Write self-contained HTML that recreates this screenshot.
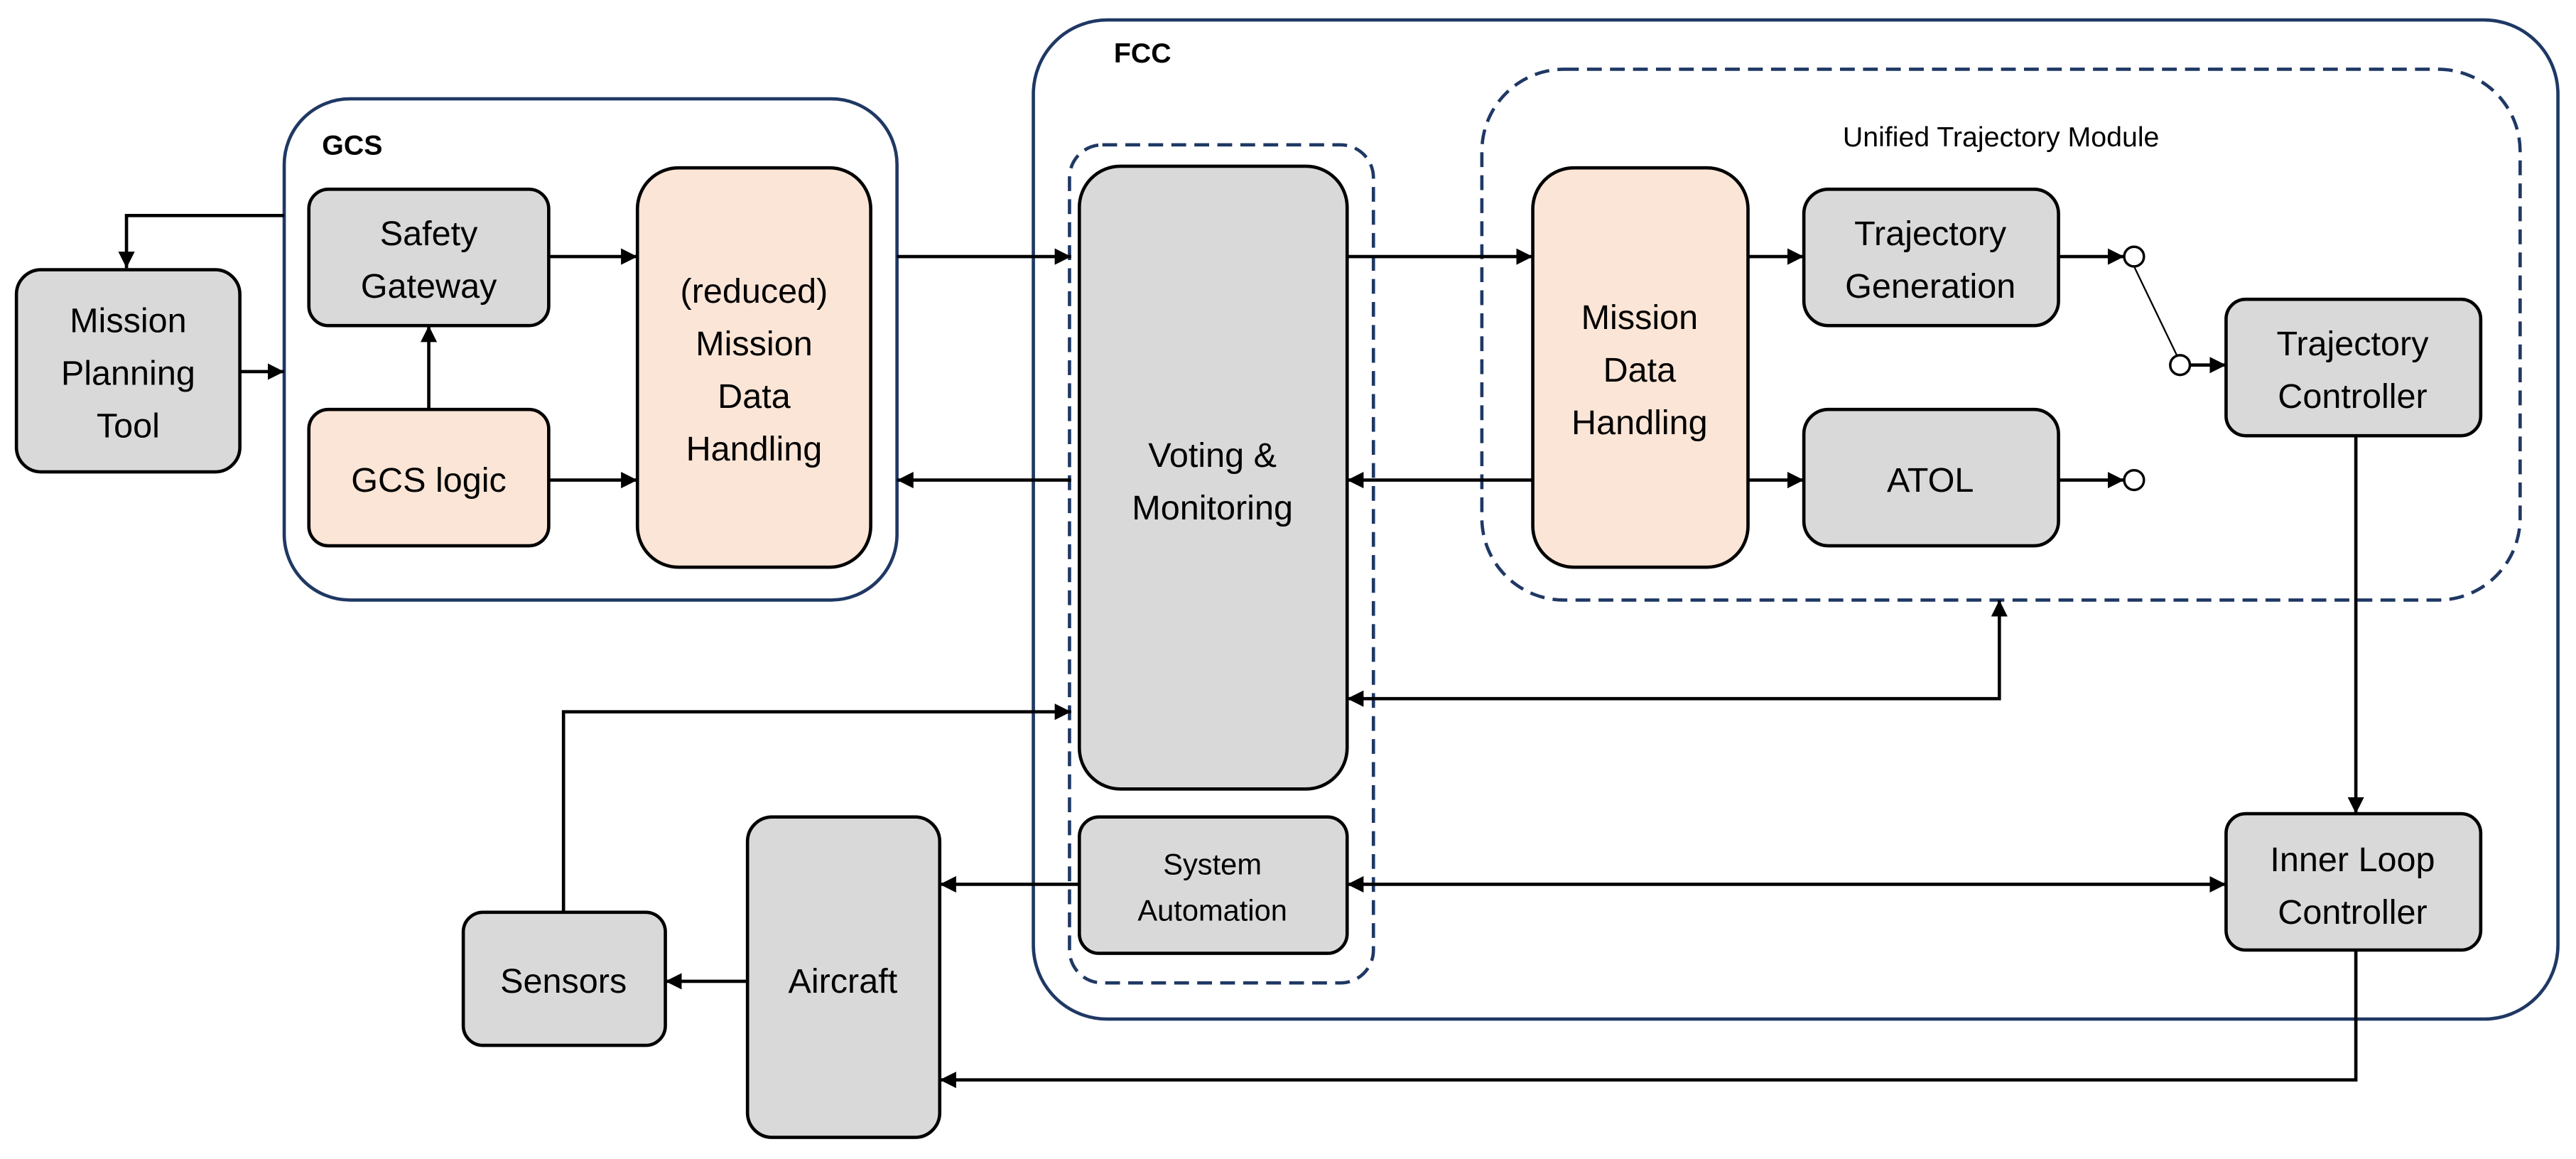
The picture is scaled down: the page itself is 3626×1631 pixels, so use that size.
<!DOCTYPE html>
<html><head><meta charset="utf-8"><style>html,body{margin:0;padding:0;background:#fff}svg{display:block}</style></head>
<body>
<svg width="3626" height="1631" viewBox="0 0 1568 705" xmlns="http://www.w3.org/2000/svg" font-family="'Liberation Sans', sans-serif">
<defs>
<marker id="a" viewBox="0 0 10 10" refX="10" refY="5" markerWidth="5" markerHeight="5" orient="auto-start-reverse"><path d="M0,0 L10,5 L0,10 z" fill="#000"/></marker>
</defs>
<g fill="none" stroke="#1f3864" stroke-width="2">
<rect x="173" y="60" width="373" height="305" rx="40"/>
<rect x="629" y="12" width="928" height="608" rx="45"/>
<g stroke-dasharray="9,5">
<rect x="651" y="88" width="185" height="510" rx="20"/>
<rect x="902" y="42" width="632" height="323" rx="50"/>
</g></g>
<g font-weight="bold" font-size="17"><text x="196" y="94">GCS</text><text x="678" y="38">FCC</text></g>
<text x="1218" y="89" font-size="17" text-anchor="middle">Unified Trajectory Module</text>
<g stroke="#000" stroke-width="2">
<rect x="10" y="164" width="136" height="123" rx="15" fill="#d9d9d9"/>
<rect x="188" y="115" width="146" height="83" rx="12" fill="#d9d9d9"/>
<rect x="188" y="249" width="146" height="83" rx="12" fill="#fbe5d6"/>
<rect x="388" y="102" width="142" height="243" rx="25" fill="#fbe5d6"/>
<rect x="657" y="101" width="163" height="379" rx="25" fill="#d9d9d9"/>
<rect x="657" y="497" width="163" height="83" rx="12" fill="#d9d9d9"/>
<rect x="933" y="102" width="131" height="243" rx="25" fill="#fbe5d6"/>
<rect x="1098" y="115" width="155" height="83" rx="15" fill="#d9d9d9"/>
<rect x="1098" y="249" width="155" height="83" rx="15" fill="#d9d9d9"/>
<rect x="1355" y="182" width="155" height="83" rx="12" fill="#d9d9d9"/>
<rect x="1355" y="495" width="155" height="83" rx="12" fill="#d9d9d9"/>
<rect x="455" y="497" width="117" height="195" rx="15" fill="#d9d9d9"/>
<rect x="282" y="555" width="123" height="81" rx="12" fill="#d9d9d9"/>
</g>
<g fill="none" stroke="#000" stroke-width="2" marker-end="url(#a)">
<polyline points="173,131 77,131 77,163"/>
<line x1="146" y1="226" x2="173" y2="226"/>
<line x1="261" y1="249" x2="261" y2="198"/>
<line x1="334" y1="156" x2="388" y2="156"/>
<line x1="334" y1="292" x2="388" y2="292"/>
<line x1="546" y1="156" x2="652" y2="156"/>
<line x1="652" y1="292" x2="546" y2="292"/>
<line x1="820" y1="156" x2="933" y2="156"/>
<line x1="933" y1="292" x2="820" y2="292"/>
<line x1="1064" y1="156" x2="1098" y2="156"/>
<line x1="1064" y1="292" x2="1098" y2="292"/>
<line x1="1253" y1="156" x2="1293" y2="156"/>
<line x1="1253" y1="292" x2="1293" y2="292"/>
<line x1="1333" y1="222" x2="1355" y2="222"/>
<line x1="1434" y1="265" x2="1434" y2="495"/>
<polyline points="820,425 1217,425 1217,365" marker-start="url(#a)"/>
<line x1="820" y1="538" x2="1355" y2="538" marker-start="url(#a)"/>
<polyline points="1434,578 1434,657 572,657"/>
<line x1="657" y1="538" x2="572" y2="538"/>
<line x1="455" y1="597" x2="405" y2="597"/>
<polyline points="343,555 343,433 652,433"/>
</g>
<line x1="1299" y1="162" x2="1325" y2="216" stroke="#000" stroke-width="1"/>
<g fill="#fff" stroke="#000" stroke-width="1.5">
<circle cx="1299" cy="156" r="6"/><circle cx="1299" cy="292" r="6"/><circle cx="1327" cy="222" r="6"/>
</g>
<g font-size="21" text-anchor="middle" fill="#000">
<text x="78" y="202">Mission</text><text x="78" y="234">Planning</text><text x="78" y="266">Tool</text>
<text x="261" y="149">Safety</text><text x="261" y="181">Gateway</text>
<text x="261" y="299">GCS logic</text>
<text x="459" y="184">(reduced)</text><text x="459" y="216">Mission</text><text x="459" y="248">Data</text><text x="459" y="280">Handling</text>
<text x="738" y="284">Voting &amp;</text><text x="738" y="316">Monitoring</text>
<text x="738" y="532" font-size="18">System</text><text x="738" y="560" font-size="18">Automation</text>
<text x="998" y="200">Mission</text><text x="998" y="232">Data</text><text x="998" y="264">Handling</text>
<text x="1175" y="149">Trajectory</text><text x="1175" y="181">Generation</text>
<text x="1175" y="299">ATOL</text>
<text x="1432" y="216">Trajectory</text><text x="1432" y="248">Controller</text>
<text x="1432" y="530">Inner Loop</text><text x="1432" y="562">Controller</text>
<text x="513" y="604">Aircraft</text>
<text x="343" y="604">Sensors</text>
</g>
</svg>
</body></html>
